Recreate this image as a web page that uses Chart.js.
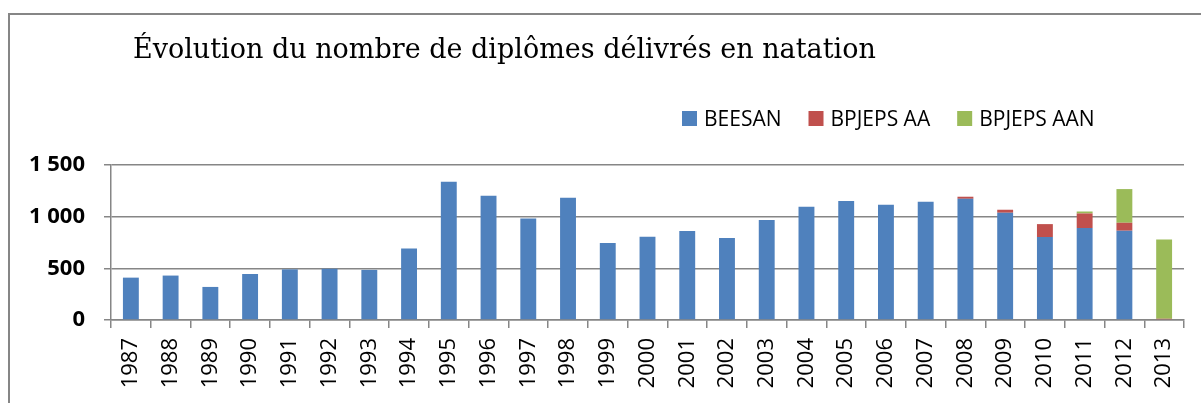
<!DOCTYPE html>
<html>
<head>
<meta charset="utf-8">
<script src="https://cdn.jsdelivr.net/npm/chart.js@4"></script>
<style>
  html, body { margin: 0; padding: 0; background: #fff; }
  #wrap { width: 1201px; height: 403px; }
</style>
</head>
<body>
<div id="wrap"><canvas id="myChart" width="1201" height="403"></canvas></div>
<script>
// data
const years = ['1987','1988','1989','1990','1991','1992','1993','1994','1995','1996',
  '1997','1998','1999','2000','2001','2002','2003','2004','2005','2006',
  '2007','2008','2009','2010','2011','2012','2013'];
const beesan = [410, 430, 320, 445, 490, 495, 485, 692, 1337, 1202,
  983, 1183, 745, 806, 861, 793, 967, 1096, 1151, 1115,
  1144, 1173, 1038, 803, 890, 864, 0];
const bpjepsAA = [0, 0, 0, 0, 0, 0, 0, 0, 0, 0,
  0, 0, 0, 0, 0, 0, 0, 0, 0, 0,
  0, 20, 29, 125, 141, 77, 12];
const bpjepsAAN = [0, 0, 0, 0, 0, 0, 0, 0, 0, 0,
  0, 0, 0, 0, 0, 0, 0, 0, 0, 0,
  0, 0, 0, 0, 19, 326, 767];
const yTicks = [0, 500, 1000, 1500];
const title = 'Évolution du nombre de diplômes délivrés en natation';

const gray = '#868686';

// frame, title and legend drawn on the canvas
const decor = {
  id: 'decor',
  afterDraw(chart) {
    const ctx = chart.ctx;
    ctx.save();
    ctx.strokeStyle = gray;
    ctx.lineWidth = 2;
    ctx.beginPath();
    ctx.moveTo(9, 403);
    ctx.lineTo(9, 14);
    ctx.lineTo(1201, 14);
    ctx.stroke();

    ctx.fillStyle = '#000';
    ctx.font = '27px "DejaVu Serif"';
    ctx.textBaseline = 'alphabetic';
    ctx.textAlign = 'left';
    ctx.fillText(title, 133, 58);

    ctx.font = '21px "Open Sans"';
    let x = 682;
    chart.data.datasets.forEach(ds => {
      ctx.fillStyle = ds.backgroundColor;
      ctx.fillRect(x, 111, 15, 15);
      x += 15 + 7;
      ctx.fillStyle = '#000';
      ctx.fillText(ds.label, x, 126);
      x += ctx.measureText(ds.label).width + 27;
    });
    ctx.restore();
  }
};

const config = {
  type: 'bar',
  data: {
    labels: years,
    datasets: [
      { label: 'BEESAN', data: beesan, backgroundColor: '#4F81BD' },
      { label: 'BPJEPS AA', data: bpjepsAA, backgroundColor: '#C0504D' },
      { label: 'BPJEPS AAN', data: bpjepsAAN, backgroundColor: '#9BBB59' }
    ]
  },
  options: {
    responsive: false,
    animation: false,
    layout: { padding: { left: 0, right: 17, top: 165, bottom: 0 } },
    datasets: { bar: { categoryPercentage: 1, barPercentage: 0.4 } },
    plugins: {
      legend: { display: false },
      title: { display: false },
      tooltip: { enabled: false }
    },
    scales: {
      x: {
        stacked: true,
        afterFit(scale) { scale.height = 83; },
        grid: {
          offset: true,
          drawOnChartArea: false,
          drawTicks: true,
          tickLength: 8,
          color: gray,
          lineWidth: 1.5
        },
        border: { display: true, color: gray, width: 1.5 },
        ticks: {
          minRotation: 90,
          maxRotation: 90,
          autoSkip: false,
          padding: 10,
          color: '#000',
          font: { family: 'Open Sans', size: 22 }
        }
      },
      y: {
        stacked: true,
        min: 0,
        max: 1500,
        afterFit(scale) { scale.width = 111; },
        afterBuildTicks(scale) { scale.ticks = yTicks.map(v => ({ value: v })); },
        grid: {
          drawTicks: true,
          tickLength: 7,
          color: gray,
          lineWidth: 1.5
        },
        border: { display: true, color: gray, width: 1.5 },
        ticks: {
          padding: 19,
          color: '#000',
          font: { family: 'Open Sans', size: 22, weight: 'bold' },
          callback: v => v.toLocaleString('fr-FR').replace(/\s/g, ' ')
        }
      }
    }
  },
  plugins: [decor]
};

const myChart = new Chart(document.getElementById('myChart'), config);
</script>
</body>
</html>
